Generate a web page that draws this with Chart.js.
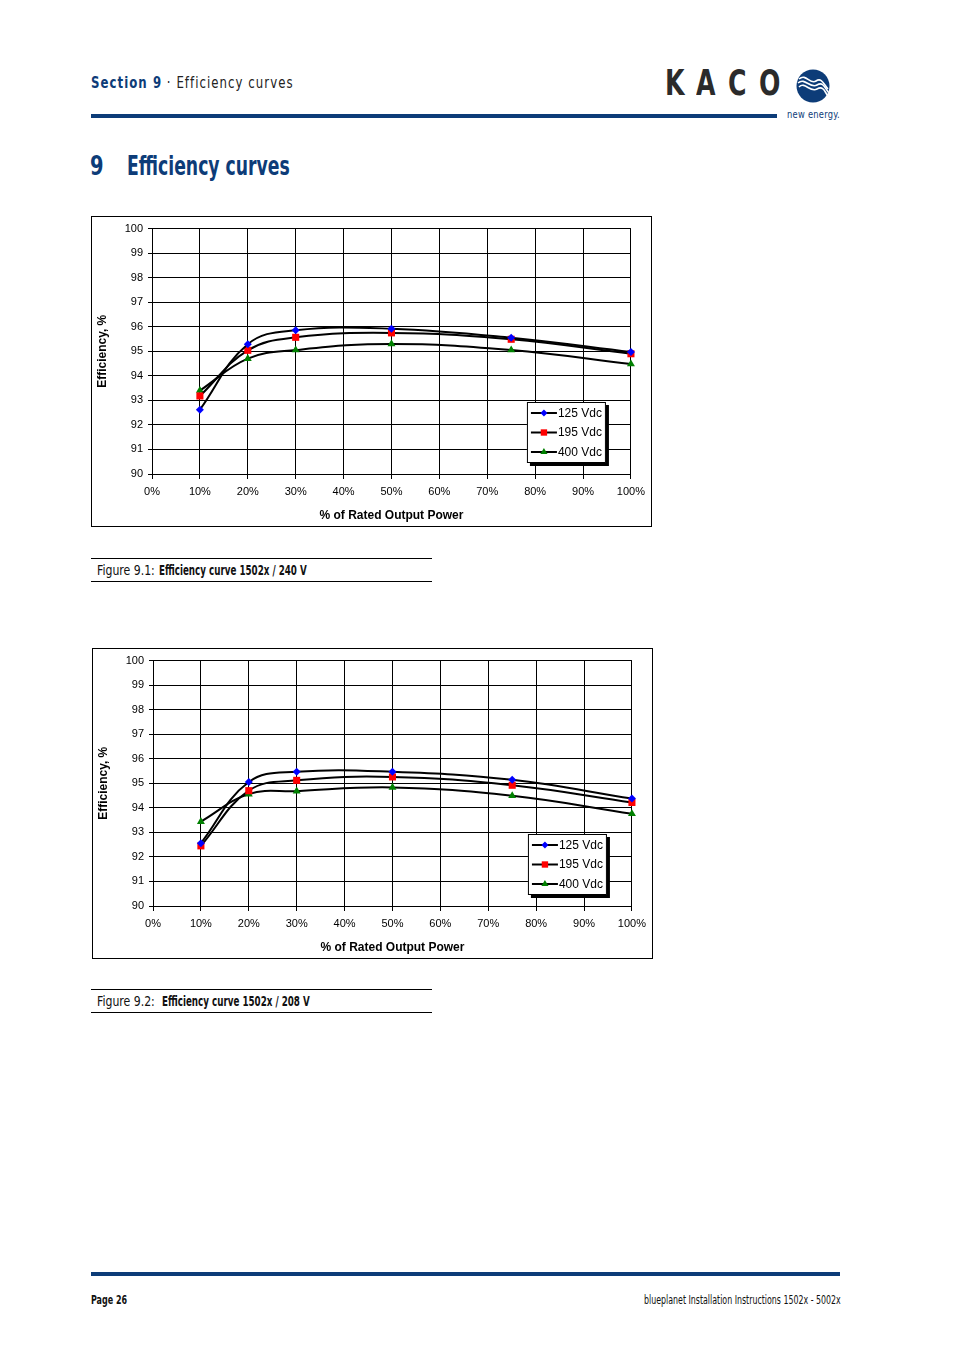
<!DOCTYPE html>
<html>
<head>
<meta charset="utf-8">
<script src="https://cdn.jsdelivr.net/npm/chart.js@4"></script>
<style>
  html, body { margin: 0; padding: 0; background: #fff; }
  body { width: 954px; height: 1350px; position: relative; overflow: hidden;
         font-family: "DejaVu Sans Condensed", "Liberation Sans", sans-serif; }
  .abs { position: absolute; white-space: nowrap; transform-origin: 0 0; }
  .blue { color: #0d3c78; }
  .rule { position: absolute; background: #0d3c78; }
  .box { position: absolute; border: 1px solid #000; box-sizing: border-box; width: 561px; height: 311px; }
  .box canvas { position: absolute; left: 0; top: 0; }
  .capline { position: absolute; left: 91px; width: 341px; height: 1px; background: #000; }
  .cap { font-size: 13.5px; color: #111; }
  .logo { position: absolute; top: 63px; font-size: 35px; font-weight: bold; color: #2b2b2b; transform: scaleX(0.8); transform-origin: 0 0; }
</style>
</head>
<body>
<div class="abs" style="left:91px; top:74px; font-size:15px; letter-spacing:1.2px; color:#222; transform:scaleX(0.87);">
  <b class="blue">Section 9</b> · Efficiency curves
</div>
<div class="logo" style="left:665px;">K</div>
<div class="logo" style="left:696px;">A</div>
<div class="logo" style="left:728px;">C</div>
<div class="logo" style="left:759px;">O</div>
<svg class="abs" style="left:796px; top:69px;" width="34" height="34" viewBox="0 0 34 34">
  <circle cx="17" cy="17" r="16.5" fill="#0d3c78"/>
  <path d="M3 10 C 10 4, 14 16, 20 12 S 28 16, 32 20" stroke="#fff" stroke-width="1.6" fill="none"/>
  <path d="M2 14 C 9 8, 14 20, 21 16 S 29 20, 33 24" stroke="#fff" stroke-width="1.6" fill="none"/>
  <path d="M3 18 C 9 12, 14 24, 21 20 S 29 24, 32 27" stroke="#fff" stroke-width="1.6" fill="none"/>
</svg>
<div class="rule" style="left:91px; top:114px; width:686px; height:4px;"></div>
<div class="abs blue" style="left:787px; top:108px; font-size:10.5px; letter-spacing:0.3px; transform:scaleX(0.88);">new energy.</div>

<div class="abs blue" style="left:90px; top:150px; font-size:27px; font-weight:bold; transform:scaleX(0.8);">9</div>
<div class="abs blue" style="left:127px; top:150px; font-size:27px; font-weight:bold; transform:scaleX(0.71);">Efficiency curves</div>

<div class="box" style="left:91px; top:216px;"><canvas id="c1" width="559" height="309"></canvas></div>
<div class="capline" style="top:558px;"></div>
<div class="abs cap" style="left:97px; top:562px; transform:scaleX(0.9);">Figure 9.1:</div>
<div class="abs cap" style="left:159px; top:562px; font-weight:bold; transform:scaleX(0.72);">Efficiency curve 1502x / 240 V</div>
<div class="capline" style="top:581px;"></div>

<div class="box" style="left:92px; top:648px;"><canvas id="c2" width="559" height="309"></canvas></div>
<div class="capline" style="top:989px;"></div>
<div class="abs cap" style="left:97px; top:993px; transform:scaleX(0.9);">Figure 9.2:</div>
<div class="abs cap" style="left:162px; top:993px; font-weight:bold; transform:scaleX(0.72);">Efficiency curve 1502x / 208 V</div>
<div class="capline" style="top:1012px;"></div>

<div class="rule" style="left:91px; top:1272px; width:749px; height:4px;"></div>
<div class="abs" style="left:91px; top:1293px; font-size:12px; font-weight:bold; color:#111; transform:scaleX(0.74);">Page 26</div>
<div class="abs" style="left:644px; top:1293px; font-size:12px; color:#111; transform:scaleX(0.73);">blueplanet Installation Instructions 1502x - 5002x</div>

<script>
// load in % of rated output power
const loadPct = [10, 20, 30, 50, 75, 100];
const seriesNames = ['125 Vdc', '195 Vdc', '400 Vdc'];
const xTicks = [0, 10, 20, 30, 40, 50, 60, 70, 80, 90, 100];
const yTicks = [90, 91, 92, 93, 94, 95, 96, 97, 98, 99, 100];

// Figure 9.1 - 240 V
const fig1_125 = [92.62, 95.29, 95.86, 95.92, 95.55, 94.97];
const fig1_195 = [93.18, 95.04, 95.57, 95.75, 95.49, 94.90];
const fig1_400 = [93.40, 94.70, 95.05, 95.30, 95.05, 94.48];

// Figure 9.2 - 208 V
const fig2_125 = [92.56, 95.05, 95.47, 95.47, 95.14, 94.38];
const fig2_195 = [92.45, 94.70, 95.12, 95.26, 94.92, 94.22];
const fig2_400 = [93.44, 94.56, 94.68, 94.83, 94.49, 93.76];

const markerColors = ['#0000ff', '#ff0000', '#008000'];
const markerStyles = ['rectRot', 'rect', 'triangle'];
const markerSizes = [4, 5, 4.6];

const tickFont = { family: '"Liberation Sans", Arial, sans-serif', size: 11 };
const titleFont = { family: '"Liberation Sans", Arial, sans-serif', size: 12, weight: 'bold' };

// legend box drawn inside plot area, bottom right, with a drop shadow
const boxLegend = {
  id: 'boxLegend',
  afterDraw(chart) {
    const ctx = chart.ctx;
    const a = chart.chartArea;
    const w = 79, h = 61;
    const x = a.right - 25 - w, y = a.bottom - 11 - h;
    ctx.save();
    ctx.fillStyle = '#000';
    ctx.fillRect(x + 3, y + 3, w, h);
    ctx.fillStyle = '#fff';
    ctx.fillRect(x, y, w, h);
    ctx.strokeStyle = '#000';
    ctx.lineWidth = 1;
    ctx.strokeRect(x + 0.5, y + 0.5, w - 1, h - 1);
    chart.data.datasets.forEach((ds, i) => {
      const cy = y + 11 + i * 19.5;
      ctx.strokeStyle = '#000';
      ctx.lineWidth = 2;
      ctx.beginPath();
      ctx.moveTo(x + 4, cy);
      ctx.lineTo(x + 30, cy);
      ctx.stroke();
      ctx.fillStyle = ds.pointBackgroundColor;
      Chart.helpers.drawPoint(ctx, {
        pointStyle: ds.pointStyle, radius: ds.pointRadius - 0.5, rotation: 0, borderWidth: 0
      }, x + 17, cy);
      ctx.fillStyle = '#000';
      ctx.font = '12px "Liberation Sans", Arial, sans-serif';
      ctx.textBaseline = 'middle';
      ctx.fillText(ds.label, x + 31, cy + 0.5);
    });
    ctx.restore();
  }
};

function makeChart(id, seriesList) {
  const datasets = seriesList.map((vals, i) => ({
    label: seriesNames[i],
    data: loadPct.map((p, j) => ({ x: p, y: vals[j] })),
    borderColor: '#000',
    borderWidth: 2,
    tension: 0.4,
    showLine: true,
    clip: false,
    pointStyle: markerStyles[i],
    pointRadius: markerSizes[i],
    pointBackgroundColor: markerColors[i],
    pointBorderColor: markerColors[i],
    pointBorderWidth: 0
  }));
  return new Chart(document.getElementById(id).getContext('2d'), {
    type: 'scatter',
    data: { datasets },
    options: {
      responsive: false,
      animation: false,
      events: [],
      layout: { padding: { top: 10, right: 20, left: 0, bottom: 0 } },
      plugins: { legend: { display: false }, tooltip: { enabled: false } },
      scales: {
        x: {
          type: 'linear', min: 0, max: 100,
          afterBuildTicks: s => { s.ticks = xTicks.map(v => ({ value: v })); },
          afterFit: s => { s.height = 52; },
          grid: { color: '#000', lineWidth: 1, tickLength: 5 },
          border: { color: '#000', width: 1 },
          ticks: { font: tickFont, color: '#000', padding: 6, maxRotation: 0, callback: v => v + '%' },
          title: { display: true, text: '% of Rated Output Power', font: titleFont, color: '#000', padding: { top: 0, bottom: 3 } }
        },
        y: {
          min: 90, max: 100,
          afterBuildTicks: s => { s.ticks = yTicks.map(v => ({ value: v })); },
          afterFit: s => { s.width = 60; },
          grid: { color: '#000', lineWidth: 1, tickLength: 4 },
          border: { color: '#000', width: 1 },
          ticks: { font: tickFont, color: '#000', padding: 5 },
          title: { display: true, text: 'Efficiency, %', font: titleFont, color: '#000', padding: { top: 3, bottom: 0 } }
        }
      }
    },
    plugins: [boxLegend]
  });
}

makeChart('c1', [fig1_125, fig1_195, fig1_400]);
makeChart('c2', [fig2_125, fig2_195, fig2_400]);
</script>
</body>
</html>
